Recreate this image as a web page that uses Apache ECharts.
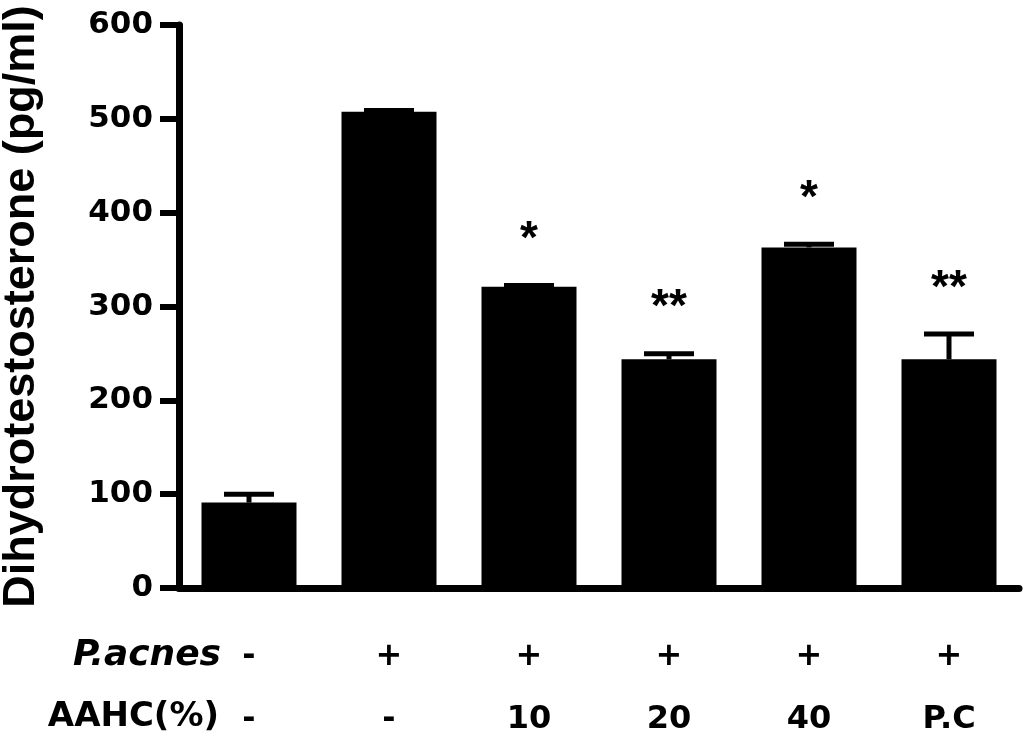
<!DOCTYPE html>
<html style="height: 100%;">
<head>
    <meta charset="UTF-8">
    <script src="https://cdn.jsdelivr.net/npm/echarts/dist/echarts.min.js"></script>
</head>
<body style="height: 100%; margin: 0; background: #fff;">
    <div id="chart" style="width: 1024px; height: 742px;"></div>

    <script type="text/javascript">
        // Values
        var groups = ['ctrl', 'P.acnes', 'AAHC 10', 'AAHC 20', 'AAHC 40', 'P.C'];
        var pacnesRow = ['-', '+', '+', '+', '+', '+'];
        var aahcRow = ['-', '-', '10', '20', '40', 'P.C'];
        var means = [91, 507.5, 321, 243.7, 363, 243.7];
        var errors = [9, 1.5, 1.5, 6, 3.3, 27];
        var stars = ['', '', '*', '**', '*', '**'];
        var yTicks = [0, 100, 200, 300, 400, 500, 600];

        var chart = echarts.init(document.getElementById('chart'));

        var labelFont = 'DejaVu Sans';

        var option = {
            animation: false,
            backgroundColor: '#fff',
            grid: {
                left: 179,
                right: 5,
                top: 25,
                bottom: 154,
                containLabel: false,
                outerBoundsMode: 'none'
            },
            xAxis: {
                type: 'category',
                data: groups,
                axisLine: { lineStyle: { color: '#000', width: 7 } },
                axisTick: {
                    alignWithLabel: true,
                    length: 17,
                    lineStyle: { color: '#000', width: 5 }
                },
                axisLabel: {
                    margin: 37,
                    formatter: function (value, index) {
                        return '{a|' + pacnesRow[index] + '}\n{b|' + aahcRow[index] + '}';
                    },
                    rich: {
                        a: { fontSize: 32, fontWeight: 'bold', fontFamily: labelFont, color: '#000', lineHeight: 63 },
                        b: { fontSize: 32, fontWeight: 'bold', fontFamily: labelFont, color: '#000', lineHeight: 63 }
                    }
                }
            },
            yAxis: {
                type: 'value',
                min: yTicks[0],
                max: yTicks[yTicks.length - 1],
                interval: 100,
                name: 'Dihydrotestosterone (pg/ml)',
                nameLocation: 'middle',
                nameRotate: 90,
                nameGap: 135,
                nameTextStyle: {
                    fontSize: 45,
                    fontWeight: 'bold',
                    fontFamily: 'Arial',
                    color: '#000'
                },
                splitLine: { show: false },
                axisLine: { show: true, lineStyle: { color: '#000', width: 7 } },
                axisTick: { show: true, length: 19, lineStyle: { color: '#000', width: 6 } },
                axisLabel: {
                    margin: 26,
                    fontSize: 31,
                    fontWeight: 'bold',
                    fontFamily: labelFont,
                    color: '#000'
                }
            },
            graphic: [
                {
                    type: 'text',
                    right: 1024 - 221,
                    top: 638,
                    style: {
                        text: 'P.acnes',
                        fontSize: 36,
                        fontWeight: 'bold',
                        fontStyle: 'italic',
                        fontFamily: labelFont,
                        fill: '#000'
                    }
                },
                {
                    type: 'text',
                    right: 1024 - 219,
                    top: 700,
                    style: {
                        text: 'AAHC(%)',
                        fontSize: 34,
                        fontWeight: 'bold',
                        fontFamily: labelFont,
                        fill: '#000'
                    }
                }
            ],
            series: [
                {
                    name: 'DHT',
                    type: 'bar',
                    data: means,
                    barWidth: 95,
                    itemStyle: { color: '#000' },
                    z: 2
                },
                {
                    // error bars (upper half only) + significance stars
                    name: 'SEM',
                    type: 'custom',
                    data: means.map(function (m, i) { return [i, m, errors[i]]; }),
                    z: 3,
                    renderItem: function (params, api) {
                        var idx = params.dataIndex;
                        var base = api.coord([api.value(0), api.value(1)]);
                        var top = api.coord([api.value(0), api.value(1) + api.value(2)]);
                        var children = [
                            {
                                type: 'line',
                                shape: { x1: top[0], y1: base[1], x2: top[0], y2: top[1] },
                                style: { stroke: '#000', lineWidth: 5 }
                            },
                            {
                                type: 'line',
                                shape: { x1: top[0] - 25, y1: top[1], x2: top[0] + 25, y2: top[1] },
                                style: { stroke: '#000', lineWidth: 5 }
                            }
                        ];
                        if (stars[idx]) {
                            children.push({
                                type: 'text',
                                x: top[0],
                                y: top[1] - 45,
                                style: {
                                    text: stars[idx],
                                    fontSize: 46,
                                    fontWeight: 'bold',
                                    fontFamily: 'Arial',
                                    fill: '#000',
                                    align: 'center',
                                    verticalAlign: 'middle'
                                }
                            });
                        }
                        return { type: 'group', children: children };
                    }
                }
            ]
        };

        chart.setOption(option);
        window.addEventListener('resize', chart.resize);
    </script>
</body>
</html>
